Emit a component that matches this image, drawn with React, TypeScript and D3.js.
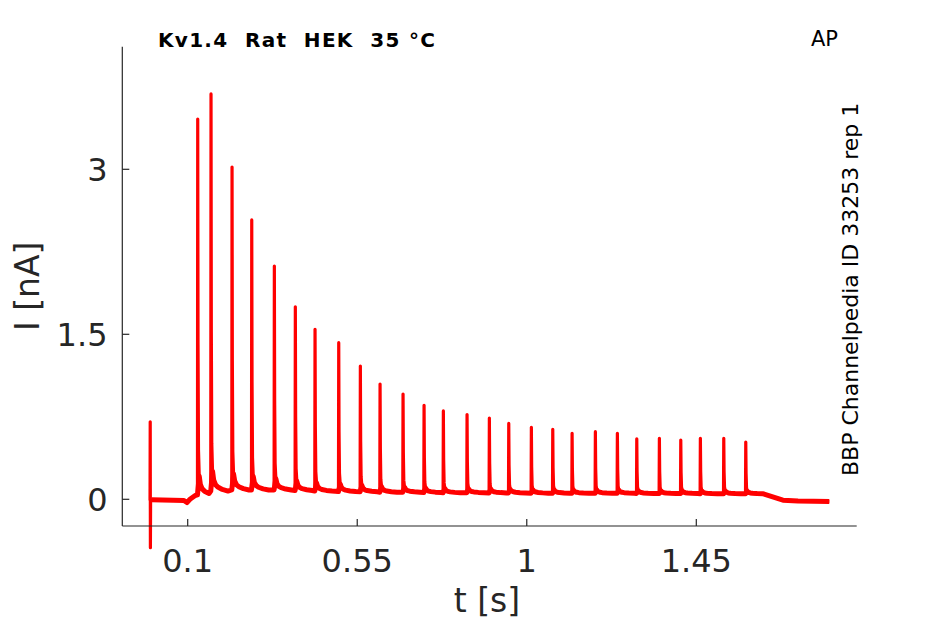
import React, { useEffect, useRef } from 'react';
import * as d3 from 'd3';

// spike times (s), peak currents (nA) and local baseline (nA)
const spikeTimes = [
  0.1266, 0.1619, 0.2177, 0.27, 0.33, 0.3857, 0.438, 0.5009, 0.5583, 0.6106,
  0.6716, 0.7274, 0.7786, 0.8415, 0.9007, 0.9522, 1.0122, 1.069, 1.1203, 1.1821,
  1.2405, 1.292, 1.352, 1.4088, 1.4608, 1.5229, 1.5813,
];
const spikePeaks = [
  3.457, 3.685, 3.02, 2.54, 2.12, 1.75, 1.545, 1.424, 1.212, 1.048,
  0.957, 0.854, 0.803, 0.77, 0.739, 0.69, 0.655, 0.636, 0.6, 0.615,
  0.6, 0.55, 0.555, 0.539, 0.555, 0.555, 0.52,
];
const spikeBase = [
  0.04, 0.075, 0.085, 0.085, 0.085, 0.08, 0.075, 0.07, 0.068, 0.065,
  0.065, 0.062, 0.06, 0.06, 0.058, 0.058, 0.056, 0.055, 0.055, 0.055,
  0.055, 0.053, 0.052, 0.052, 0.05, 0.05, 0.05,
];

// spike shape after the peak: [ms after peak, fraction of amplitude]
const tailShape: [number, number][] = [
  [-0.7, 0], [0, 1], [0.8, 0.4], [2, 0.12], [4, 0.05], [7, 0.028],
  [12, 0.016], [18, 0.01], [30, 0.004], [45, 0],
];

// baseline segments outside the spike train
const baselineT = [0.004, 0.09, 0.098, 0.106, 0.12, 1.63, 1.68, 1.72, 1.803];
const baselineI = [-0.005, -0.01, -0.03, 0.0, 0.035, 0.048, -0.008, -0.015, -0.02];

// stimulus artifact at t = 0
const artifactT = [0, 0.0005, 0.001, 0.0015, 0.002];
const artifactI = [-0.01, 0.705, -0.44, -0.01, -0.005];

const xTicks = [0.1, 0.55, 1, 1.45];
const yTicks = [0, 1.5, 3];

const FONT = 'DejaVu Sans, sans-serif';

export default function App() {
  const svgRef = useRef<SVGSVGElement>(null);

  useEffect(() => {
    if (!svgRef.current) return;
    const svg = d3.select(svgRef.current);
    svg.selectAll('*').remove();

    const left = 122.3, right = 856.7, top = 46.7, bottom = 526;

    const x = d3.scaleLinear().domain([0.1, 1.45]).range([187.7, 696.3]);
    const y = d3.scaleLinear().domain([0, 3]).range([499.3, 169.3]);

    const line = d3.line<[number, number]>()
      .x(d => x(d[0]))
      .y(d => y(d[1]));

    // vertices of one spike, cut off before the next spike starts
    const spikePts = (i: number, keep: (dt: number) => boolean) => {
      const t = spikeTimes[i];
      const next = i + 1 < spikeTimes.length ? spikeTimes[i + 1] - 0.002 : Infinity;
      const amp = spikePeaks[i] - spikeBase[i];
      return tailShape
        .filter(([dt]) => keep(dt) && t + dt / 1000 < next)
        .map(([dt, f]) => [t + dt / 1000, spikeBase[i] + f * amp] as [number, number]);
    };

    // noisy baseline band (drawn thicker underneath, follows the slow tails)
    const basePts: [number, number][] = [];
    baselineT.forEach((t, i) => basePts.push([t, baselineI[i]]));
    spikeTimes.forEach((_, i) => basePts.push(...spikePts(i, dt => dt < 0 || dt >= 4)));
    basePts.sort((a, b) => a[0] - b[0]);

    svg.append('path')
      .attr('d', line(basePts))
      .attr('fill', 'none')
      .attr('stroke', '#ff0000')
      .attr('stroke-width', 5)
      .attr('stroke-linejoin', 'round');

    // full trace
    const pts: [number, number][] = [];
    artifactT.forEach((t, i) => pts.push([t, artifactI[i]]));
    baselineT.forEach((t, i) => pts.push([t, baselineI[i]]));
    spikeTimes.forEach((_, i) => pts.push(...spikePts(i, () => true)));
    pts.sort((a, b) => a[0] - b[0]);

    svg.append('path')
      .attr('d', line(pts))
      .attr('fill', 'none')
      .attr('stroke', '#ff0000')
      .attr('stroke-width', 3.2)
      .attr('stroke-linejoin', 'round');

    // axes
    const axisColor = '#262626';
    svg.append('line')
      .attr('x1', left).attr('x2', left)
      .attr('y1', top).attr('y2', bottom)
      .attr('stroke', axisColor).attr('stroke-width', 1.2);
    svg.append('line')
      .attr('x1', left).attr('x2', right)
      .attr('y1', bottom).attr('y2', bottom)
      .attr('stroke', axisColor).attr('stroke-width', 1.2);

    xTicks.forEach(t => {
      svg.append('line')
        .attr('x1', x(t)).attr('x2', x(t))
        .attr('y1', bottom).attr('y2', bottom - 7)
        .attr('stroke', axisColor).attr('stroke-width', 1.2);
      svg.append('text')
        .attr('x', x(t)).attr('y', 571.7)
        .attr('text-anchor', 'middle')
        .attr('font-family', FONT).attr('font-size', 32)
        .attr('fill', axisColor)
        .text(String(t));
    });

    yTicks.forEach(v => {
      svg.append('line')
        .attr('x1', left).attr('x2', left + 7)
        .attr('y1', y(v)).attr('y2', y(v))
        .attr('stroke', axisColor).attr('stroke-width', 1.2);
      svg.append('text')
        .attr('x', 107.5).attr('y', y(v))
        .attr('dy', '0.36em')
        .attr('text-anchor', 'end')
        .attr('font-family', FONT).attr('font-size', 32)
        .attr('fill', axisColor)
        .text(String(v));
    });

    svg.append('text')
      .attr('x', 487).attr('y', 612)
      .attr('text-anchor', 'middle')
      .attr('font-family', FONT).attr('font-size', 33)
      .attr('fill', axisColor)
      .text('t [s]');

    svg.append('text')
      .attr('transform', `translate(38.5,${(top + bottom) / 2}) rotate(-90)`)
      .attr('text-anchor', 'middle')
      .attr('font-family', FONT).attr('font-size', 33)
      .attr('fill', axisColor)
      .text('I [nA]');

    // title and annotations
    svg.append('text')
      .attr('x', 158).attr('y', 46.7)
      .attr('font-family', FONT).attr('font-size', 20)
      .attr('font-weight', 'bold')
      .attr('letter-spacing', 1.3)
      .attr('fill', '#000')
      .style('white-space', 'pre')
      .text('Kv1.4  Rat  HEK  35 °C');

    svg.append('text')
      .attr('x', 811).attr('y', 46)
      .attr('font-family', FONT).attr('font-size', 21)
      .attr('fill', '#000')
      .text('AP');

    svg.append('text')
      .attr('transform', 'translate(857.5,476) rotate(-90)')
      .attr('font-family', FONT).attr('font-size', 22)
      .attr('fill', '#000')
      .text('BBP Channelpedia ID 33253 rep 1');
  }, []);

  return (
    <svg
      ref={svgRef}
      width={945}
      height={624}
      style={{ position: 'absolute', left: 0, top: 0, background: '#fff' }}
    />
  );
}
